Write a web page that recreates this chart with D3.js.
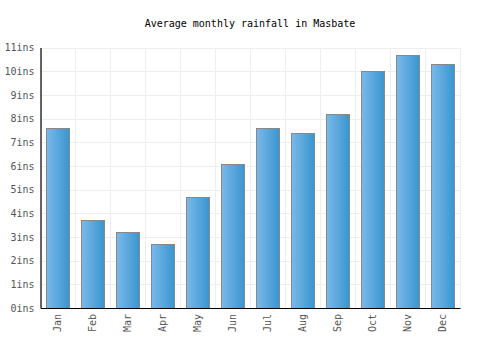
<!DOCTYPE html>
<html><head><meta charset="utf-8">
<script src="https://cdn.jsdelivr.net/npm/d3@7"></script>
<style>body{margin:0;background:#fff}svg{display:block}</style>
</head><body>
<svg id="c" width="500" height="350"></svg>
<script>
const months = ["Jan","Feb","Mar","Apr","May","Jun","Jul","Aug","Sep","Oct","Nov","Dec"];
const rainfall = [7.6,3.7,3.2,2.7,4.7,6.1,7.6,7.4,8.2,10.0,10.7,10.3];
const yTicks = [0,1,2,3,4,5,6,7,8,9,10,11];
const title = "Average monthly rainfall in Masbate";

const svg = d3.select("#c");
const m = {l:40.5, r:460, t:47.5, b:308};
const font = "'DejaVu Sans Mono', monospace";

const x = d3.scaleBand().domain(months).range([m.l, m.r]).paddingInner(0.34).paddingOuter(0.17);
const y = d3.scaleLinear().domain([0, 11]).range([m.b, m.t]);

const defs = svg.append("defs");
const g = defs.append("linearGradient").attr("id","bg").attr("x1","0").attr("x2","1").attr("y1","0").attr("y2","0");
g.append("stop").attr("offset","0").attr("stop-color","#7bb8ea");
g.append("stop").attr("offset","1").attr("stop-color","#3896d0");

svg.append("text").attr("x",250).attr("y",27).attr("text-anchor","middle")
  .style("font-family",font).style("font-size","10px").attr("fill","#000").text(title);

// horizontal grid
svg.append("g").selectAll("line").data(yTicks).join("line")
  .attr("x1",m.l).attr("x2",m.r).attr("y1",d=>Math.round(y(d))+0.5).attr("y2",d=>Math.round(y(d))+0.5)
  .attr("stroke","#eeeeee").attr("stroke-width",1);
// vertical grid at band boundaries
const step = x.step();
const vb = d3.range(13).map(i => m.l + i*step);
svg.append("g").selectAll("line").data(vb).join("line")
  .attr("x1",d=>Math.round(d)+0.5).attr("x2",d=>Math.round(d)+0.5).attr("y1",m.t).attr("y2",m.b)
  .attr("stroke","#eeeeee").attr("stroke-width",1);

// bars
svg.append("g").selectAll("rect").data(rainfall).join("rect")
  .attr("x",(d,i)=>Math.round(x(months[i]))+0.5)
  .attr("y",d=>Math.round(y(d))+0.5)
  .attr("width",Math.round(x.bandwidth()))
  .attr("height",d=>Math.round(y(0))-Math.round(y(d)))
  .attr("fill","url(#bg)").attr("stroke","#888888").attr("stroke-width",1);

// y axis
const ya = svg.append("g").attr("transform",`translate(${m.l},0)`)
  .call(d3.axisLeft(y).tickValues(yTicks).tickFormat(d=>d+"ins").tickSize(0).tickPadding(6));
ya.select(".domain").attr("stroke","#000").attr("stroke-width",1.2);
ya.selectAll("text").style("font-family",font).style("font-size","10px").attr("fill","#555");

// x axis
const xa = svg.append("g").attr("transform",`translate(0,${m.b})`)
  .call(d3.axisBottom(x).tickSize(0).tickPadding(5));
xa.select(".domain").attr("stroke","#000").attr("stroke-width",1.2);
xa.selectAll("text").style("font-family",font).style("font-size","10px").attr("fill","#555")
  .attr("transform","rotate(-90)").attr("text-anchor","end")
  .attr("x",-6).attr("y",0).attr("dy","0.35em");
</script>
</body></html>
